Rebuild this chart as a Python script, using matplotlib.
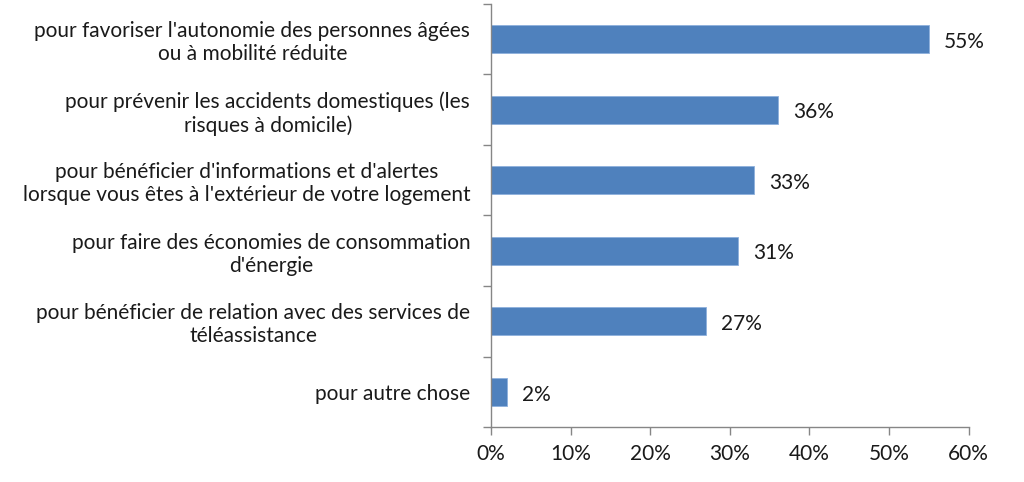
import matplotlib

matplotlib.use("Agg")
import matplotlib.pyplot as plt
import numpy as np
from matplotlib.ticker import PercentFormatter

CATEGORIES = [
    "pour favoriser l'autonomie des personnes âgées\nou à mobilité réduite",
    "pour prévenir les accidents domestiques (les\nrisques à domicile)",
    "pour bénéficier d'informations et d'alertes\nlorsque vous êtes à l'extérieur de votre logement",
    "pour faire des économies de consommation\nd'énergie",
    "pour bénéficier de relation avec des services de\ntéléassistance",
    "pour autre chose",
]
VALUES = [55, 36, 33, 31, 27, 2]
XTICKS = [0, 10, 20, 30, 40, 50, 60]

BAR = "#4F81BD"; AXIS = "#868686"; INK = "#1a1a1a"
FS = 15

plt.rcParams.update({"font.family": ["Lato", "DejaVu Sans"], "font.size": FS})

fig = plt.figure(figsize=(10.24, 4.82), dpi=100)
ax = fig.add_axes([0.4795, 0.114, 0.4665, 0.878])

n = len(CATEGORIES)
y = np.arange(n)
ax.barh(y, VALUES, height=0.4, color=BAR, edgecolor="#8EB0DC", linewidth=0.6)
for yi, v in zip(y, VALUES):
    ax.annotate(f"{v}%", (v, yi), xytext=(11, -2), textcoords="offset points",
                ha="left", va="center", color=INK, fontsize=FS)

ax.set_xlim(0, 60)
ax.set_ylim(n - 0.5, -0.5)
ax.set_xticks(XTICKS)
ax.xaxis.set_major_formatter(PercentFormatter(decimals=0))

# category boundaries carry the tick marks, centers carry the labels
ax.set_yticks(np.arange(-0.5, n, 1.0))
ax.set_yticklabels([])
ax.set_yticks(y, minor=True)
ax.set_yticklabels(CATEGORIES, minor=True, multialignment="center", linespacing=1.2)
ax.tick_params(axis="y", which="minor", length=0, pad=15, labelsize=FS, colors=INK)
ax.tick_params(axis="y", which="major", length=6, width=1, color=AXIS)
ax.tick_params(axis="x", length=6, width=1, color=AXIS, labelcolor=INK, pad=6, labelsize=FS)

for s in ("top", "right"):
    ax.spines[s].set_visible(False)
for s in ("left", "bottom"):
    ax.spines[s].set_color(AXIS)
    ax.spines[s].set_linewidth(1)

fig.savefig("out.png", dpi=100)
